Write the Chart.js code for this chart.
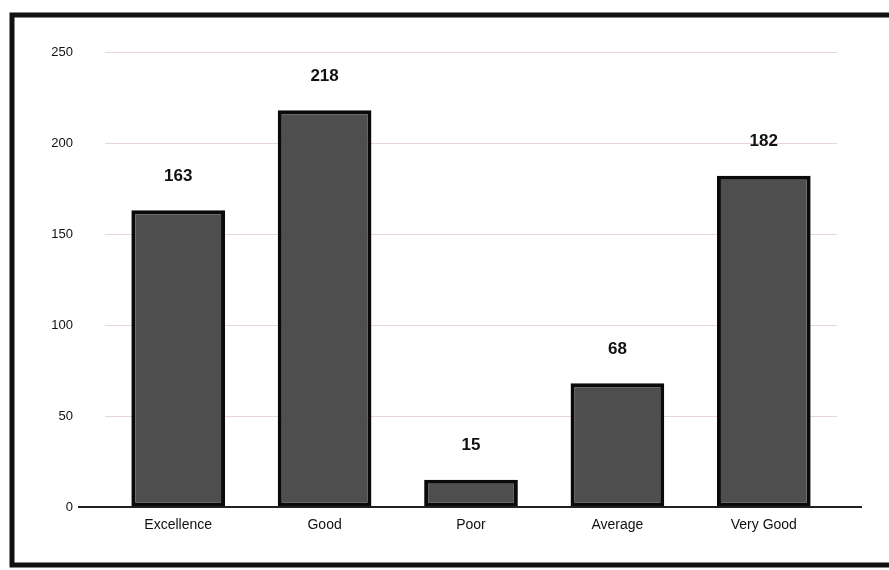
<!DOCTYPE html>
<html>
<head>
<meta charset="utf-8">
<script src="https://cdn.jsdelivr.net/npm/chart.js@4/dist/chart.umd.min.js"></script>
<style>
  html, body { margin: 0; padding: 0; background: #fff; }
  #wrap { width: 889px; height: 570px; }
</style>
</head>
<body>
<div id="wrap"><canvas id="chart" width="889" height="570"></canvas></div>
<script>
const ratings = ["Excellence", "Good", "Poor", "Average", "Very Good"];
const counts = [163, 218, 15, 68, 182];
const yTicks = [0, 50, 100, 150, 200, 250];

// frame round the whole picture + the long zero line
const framePlugin = {
  id: "frame",
  afterDraw(chart) {
    const c = chart.ctx;
    const y0 = chart.scales.y.getPixelForValue(0);
    c.save();
    c.strokeStyle = "#111";
    c.lineWidth = 5;
    c.beginPath();
    c.moveTo(895, 15);
    c.lineTo(12, 15);
    c.lineTo(12, 565);
    c.lineTo(895, 565);
    c.stroke();
    c.lineWidth = 2;
    c.strokeStyle = "#222";
    c.beginPath();
    c.moveTo(78, y0);
    c.lineTo(862, y0);
    c.stroke();
    c.restore();
  }
};

// numbers above the bars
const valuePlugin = {
  id: "values",
  afterDatasetsDraw(chart) {
    const c = chart.ctx;
    const meta = chart.getDatasetMeta(0);
    c.save();
    c.font = "bold 17px 'Liberation Sans', Arial, sans-serif";
    c.fillStyle = "#111";
    c.textAlign = "center";
    c.textBaseline = "middle";
    meta.data.forEach((bar, i) => {
      c.fillText(counts[i], bar.x, bar.y - 34);
    });
    c.restore();
  }
};

const ctx = document.getElementById("chart");
const myChart = new Chart(ctx, {
  type: "bar",
  data: {
    labels: ratings,
    datasets: [
      {
        label: "Count",
        data: counts,
        backgroundColor: "#4e4e4e",
        borderColor: "#0a0a0a",
        borderWidth: 4,
        borderSkipped: false,
        barPercentage: 0.64,
        categoryPercentage: 1.0,
      },
    ],
  },
  options: {
    responsive: false,
    animation: false,
    layout: { padding: { top: 52, right: 52, bottom: 0, left: 30 } },
    plugins: {
      legend: { display: false },
      tooltip: { enabled: false },
    },
    scales: {
      x: {
        grid: { display: false, drawTicks: false },
        border: { display: false },
        ticks: {
          color: "#111",
          padding: 10,
          font: { family: "'Liberation Sans', Arial, sans-serif", size: 14 },
        },
        afterFit(scale) { scale.height = 63; },
      },
      y: {
        min: 0,
        max: 250,
        afterBuildTicks(scale) { scale.ticks = yTicks.map(v => ({ value: v })); },
        grid: { color: "rgba(215,180,180,0.55)", lineWidth: 1, drawTicks: false },
        border: { display: false },
        ticks: {
          color: "#111",
          padding: 32,
          font: { family: "'Liberation Sans', Arial, sans-serif", size: 13 },
        },
        afterFit(scale) { scale.width = 75; },
      },
    },
  },
  plugins: [framePlugin, valuePlugin],
});
</script>
</body>
</html>
